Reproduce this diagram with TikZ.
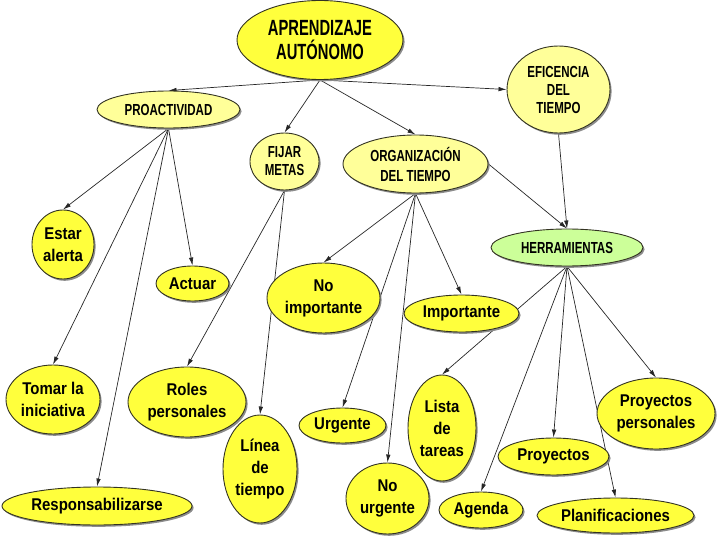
\documentclass[tikz,border=0pt]{standalone}
\usepackage{fontspec}
\setmainfont{Liberation Sans}
\newfontfamily\condfont[FakeStretch=0.72]{Liberation Sans}
\newfontfamily\bigcondfont[FakeStretch=0.67]{Liberation Sans}
\newfontfamily\lowfont[FakeStretch=0.88]{Liberation Sans}
\usetikzlibrary{shapes.geometric,shadows,arrows.meta,backgrounds}
\definecolor{ybright}{HTML}{FFFF3C}
\definecolor{ypale}{HTML}{FFFF99}
\definecolor{gpale}{HTML}{CCFF99}
\definecolor{bord}{HTML}{333322}
\begin{document}
\begin{tikzpicture}[x=1pt,y=-1pt,
  base/.style={ellipse, draw=bord, line width=0.9pt, inner sep=0pt,
    drop shadow={shadow xshift=1.6pt, shadow yshift=-1.8pt, fill=black!45, opacity=1}},
  yb/.style={base, fill=ybright},
  yp/.style={base, fill=ypale},
  gp/.style={base, fill=gpale},
  sz/.style 2 args={minimum width=#1pt, minimum height=#2pt},
  lt/.style={align=center, font=\lowfont\fontsize{17}{22}\selectfont\bfseries, inner sep=0pt},
  ut/.style={align=center, font=\condfont\fontsize{16}{19}\selectfont\bfseries, inner sep=0pt},
  arr/.style={draw=black!85, line width=0.7pt, -{Latex[length=8pt,width=4.5pt]}}
]
\useasboundingbox (0,0) rectangle (720,540);
% top level
\node[yb, sz={166}{79}, label={[ut, font=\bigcondfont\fontsize{22}{24}\selectfont\bfseries]center:APRENDIZAJE\\AUTÓNOMO}] (apr) at (320,40) {};
\node[yp, sz={143}{37}, label={[ut]center:PROACTIVIDAD}] (pro) at (168.5,109.5) {};
\node[yp, sz={69}{57}, label={[ut, font=\condfont\fontsize{16}{18}\selectfont\bfseries]center:FIJAR\\METAS}] (fij) at (284.5,161.5) {};
\node[yp, sz={145}{58}, label={[ut, font=\condfont\fontsize{16}{20}\selectfont\bfseries]center:ORGANIZACIÓN\\DEL TIEMPO}] (org) at (415.5,164) {};
\node[yp, sz={103}{87}, label={[ut, font=\condfont\fontsize{16}{18}\selectfont\bfseries]center:EFICENCIA\\DEL\\TIEMPO}] (efi) at (558.5,89.5) {};
\node[gp, sz={152}{37}, label={[ut]center:HERRAMIENTAS}] (her) at (567,247.5) {};
% proactividad
\node[yb, sz={62}{69}, label={[lt]center:Estar\\alerta}] (est) at (63,244.5) {};
\node[yb, sz={73}{35}, label={[lt]center:Actuar}] (act) at (192.5,283.5) {};
\node[yb, sz={94}{69}, label={[lt]center:Tomar la\\iniciativa}] (tom) at (53,399.5) {};
\node[yb, sz={190}{38}, label={[lt]center:Responsabilizarse}] (res) at (97,506) {};
% fijar metas
\node[yb, sz={118}{70}, label={[lt]center:Roles\\personales}] (rol) at (187,402) {};
\node[yb, sz={74}{108}, label={[lt]center:Línea\\de\\tiempo}] (lin) at (260,469) {};
% organizacion
\node[yb, sz={113}{70}, label={[lt]center:No\\importante}] (noi) at (323.5,298) {};
\node[yb, sz={115}{37}, label={[lt]center:Importante}] (imp) at (461.5,313.5) {};
\node[yb, sz={87}{35}, label={[lt]center:Urgente}] (urg) at (342.5,425.5) {};
\node[yb, sz={83}{71}, label={[lt]center:No\\urgente}] (nou) at (387.5,498.5) {};
% herramientas
\node[yb, sz={68}{106}, label={[lt]center:Lista\\de\\tareas}] (lis) at (442,428) {};
\node[yb, sz={84}{36}, label={[lt]center:Agenda}] (age) at (481,510) {};
\node[yb, sz={111}{37}, label={[lt]center:Proyectos}] (pry) at (553.5,456.5) {};
\node[yb, sz={157}{35}, label={[lt]center:Planificaciones}] (pla) at (615.5,515.5) {};
\node[yb, sz={118}{71}, label={[lt]center:Proyectos\\personales}] (pp) at (656,413.5) {};
\begin{pgfonlayer}{background}
\draw[arr] (apr.south) -- (pro.north);
\draw[arr] (apr.south) -- (fij.north);
\draw[arr] (apr.south) -- (org.north);
\draw[arr] (apr.south) -- (efi.west);
\draw[arr] (pro.south) -- (est.north);
\draw[arr] (pro.south) -- (act.north);
\draw[arr] (pro.south) -- (tom.north);
\draw[arr] (pro.south) -- (res.north);
\draw[arr] (fij.south) -- (rol.north);
\draw[arr] (fij.south) -- (lin.north);
\draw[arr] (org.south) -- (noi.north);
\draw[arr] (org.south) -- (urg.north);
\draw[arr] (org.south) -- (nou.north);
\draw[arr] (org.south) -- (imp.north);
\draw[arr] (org.east) -- (her.north);
\draw[arr] (efi.south) -- (her.north);
\draw[arr] (her.south) -- (lis.north);
\draw[arr] (her.south) -- (age.north);
\draw[arr] (her.south) -- (pry.north);
\draw[arr] (her.south) -- (pla.north);
\draw[arr] (her.south) -- (pp.north);
\end{pgfonlayer}
\end{tikzpicture}
\end{document}
